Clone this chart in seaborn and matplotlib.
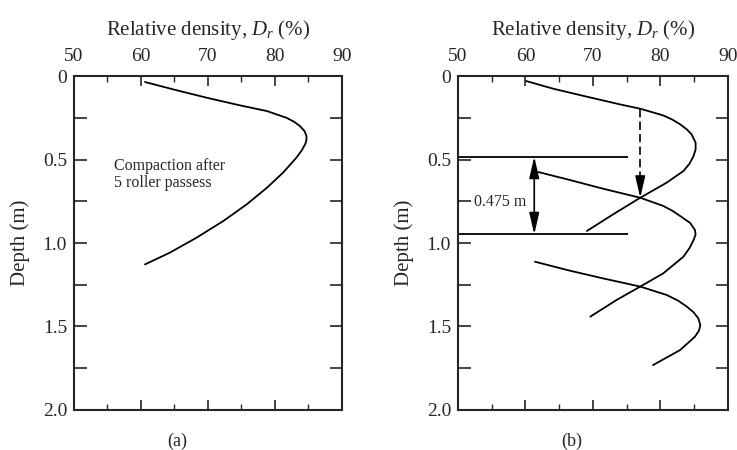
import matplotlib
matplotlib.use('Agg')

import pandas as pd
import matplotlib.pyplot as plt
import seaborn as sns

# (a) profile after 5 roller passes (depth in m, Dr in %)
depth_a = [0.036, 0.080, 0.130, 0.176, 0.210, 0.250, 0.275, 0.299, 0.329, 0.359, 0.385, 0.409,
           0.445, 0.489, 0.579, 0.669, 0.768, 0.868, 0.968, 1.058, 1.128]
dr_a = [60.6, 64.8, 69.8, 74.8, 78.8, 81.7, 82.9, 83.7, 84.4, 84.7, 84.7, 84.5,
        84.0, 83.2, 81.2, 78.8, 75.8, 72.3, 68.3, 64.3, 60.6]

# (b) three overlapping lift profiles
depth_b1 = [0.030, 0.076, 0.124, 0.170, 0.196, 0.236, 0.262, 0.289, 0.320, 0.349, 0.399,
            0.440, 0.479, 0.525, 0.569, 0.639, 0.729, 0.828, 0.928]
dr_b1 = [60.1, 64.1, 69.1, 74.0, 77.0, 80.4, 81.8, 82.9, 83.9, 84.6, 85.2,
         85.2, 84.9, 84.3, 83.4, 80.9, 77.0, 73.0, 69.1]
depth_b2 = [0.575, 0.623, 0.675, 0.729, 0.778, 0.808, 0.838, 0.880, 0.922, 0.950, 0.982,
            1.030, 1.082, 1.182, 1.261, 1.341, 1.441]
dr_b2 = [61.9, 66.6, 71.5, 77.0, 80.4, 81.8, 82.9, 84.4, 85.1, 85.2, 84.9,
         84.3, 83.4, 80.4, 77.0, 73.5, 69.6]
depth_b3 = [1.112, 1.166, 1.212, 1.261, 1.311, 1.345, 1.381, 1.415, 1.451, 1.491, 1.525,
            1.561, 1.641, 1.731]
dr_b3 = [61.4, 66.6, 71.5, 77.0, 80.9, 82.6, 83.9, 84.9, 85.6, 85.9, 85.7,
         85.1, 82.9, 78.9]

lift_lines = [0.483, 0.948]
lift_label = "0.475 m"
dash_x = 77.0
dash_from, dash_to = 0.196, 0.729

df_a = pd.DataFrame({"depth": depth_a, "dr": dr_a, "curve": "a"})
df_b = pd.concat([
    pd.DataFrame({"depth": depth_b1, "dr": dr_b1, "curve": "b1"}),
    pd.DataFrame({"depth": depth_b2, "dr": dr_b2, "curve": "b2"}),
    pd.DataFrame({"depth": depth_b3, "dr": dr_b3, "curve": "b3"}),
])

sns.set_style("ticks")
plt.rcParams['font.family'] = ['Liberation Serif', 'DejaVu Serif']
plt.rcParams['mathtext.fontset'] = 'custom'
plt.rcParams['mathtext.it'] = 'Liberation Serif:italic'
plt.rcParams['mathtext.rm'] = 'Liberation Serif'

fig = plt.figure(figsize=(7.37, 4.5), dpi=100)
ax_a = fig.add_axes([0.1004, 0.0889, 0.3636, 0.7422])
ax_b = fig.add_axes([0.6214, 0.0889, 0.3664, 0.7422])


def style_axes(ax):
    ax.set_xlim(50, 90)
    ax.set_ylim(2.0, 0)
    ax.xaxis.tick_top()
    ax.xaxis.set_label_position('top')
    ax.set_xticks([50, 60, 70, 80, 90])
    ax.set_xticks([55, 65, 75, 85], minor=True)
    ax.set_yticks([0, 0.5, 1.0, 1.5, 2.0])
    ax.set_yticklabels(["0", "0.5", "1.0", "1.5", "2.0"])
    ax.set_yticks([0.25, 0.75, 1.25, 1.75], minor=True)
    ax.tick_params(axis='x', which='major', direction='in', length=7, width=1.2,
                   top=True, bottom=True, labelsize=14, pad=8)
    ax.tick_params(axis='x', which='minor', direction='in', length=4, width=1.0,
                   top=True, bottom=True)
    ax.tick_params(axis='y', which='both', direction='in', length=9, width=1.2,
                   left=True, right=True, labelsize=14, pad=5)
    for s in ax.spines.values():
        s.set_linewidth(1.5)
    ax.set_xlabel("Relative density, $D_r$ (%)", fontsize=15, labelpad=9)
    ax.set_ylabel("Depth (m)", fontsize=15, labelpad=9)


sns.lineplot(data=df_a, x="dr", y="depth", units="curve", estimator=None, sort=False,
             color="black", linewidth=1.3, ax=ax_a)
sns.lineplot(data=df_b, x="dr", y="depth", units="curve", estimator=None, sort=False,
             color="black", linewidth=1.3, ax=ax_b)

style_axes(ax_a)
style_axes(ax_b)

fig.text(177 / 737, 1 - 441 / 450, "(a)", ha='center', va='center', fontsize=13)
fig.text(572 / 737, 1 - 441 / 450, "(b)", ha='center', va='center', fontsize=13)

ax_a.text(55.9, 0.59, "Compaction after\n5 roller passess", fontsize=11.5,
          ha='left', va='center', linespacing=1.05)

# lift boundaries and annotation in (b)
ax_b.hlines(lift_lines, 50, 75.2, color="black", linewidth=1.3)
head = "head_length=1.3,head_width=0.3"
ax_b.annotate("", xy=(61.3, lift_lines[0]), xytext=(61.3, lift_lines[1]),
              arrowprops=dict(arrowstyle="<|-|>," + head,
                              color="black", lw=1.2, shrinkA=0, shrinkB=0))
ax_b.text(56.2, 0.754, lift_label, fontsize=11.5, ha='center', va='center',
          bbox=dict(facecolor='white', edgecolor='none', pad=1))
ax_b.plot([dash_x, dash_x], [dash_from, dash_to - 0.1], color="black",
          linewidth=1.2, linestyle=(0, (5, 2.5)))
ax_b.annotate("", xy=(dash_x, dash_to), xytext=(dash_x, dash_to - 0.115),
              arrowprops=dict(arrowstyle="-|>," + head,
                              color="black", lw=1.2, shrinkA=0, shrinkB=0))

fig.savefig("out.png", dpi=100)
plt.close(fig)
